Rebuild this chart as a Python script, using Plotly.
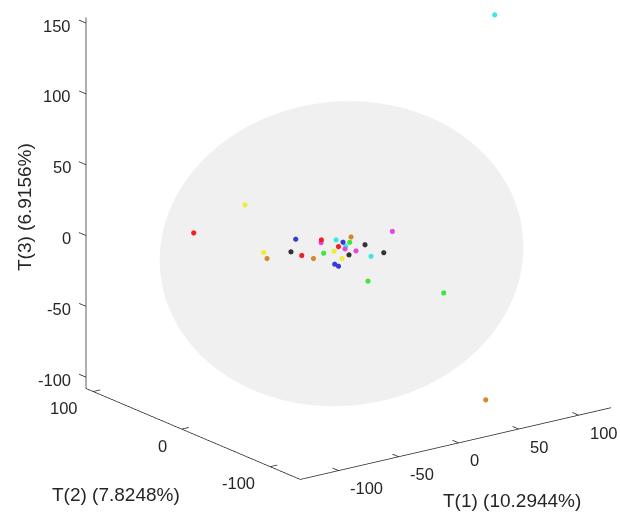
import numpy as np
import plotly.graph_objects as go

# ---- data (PCA scores) ----
group_names = ["red", "yellow", "orange", "blue", "black", "magenta", "cyan", "green"]
group_colors = ["#ee2020", "#f0ec3c", "#d48a2c", "#3a3ad4", "#333333", "#e448e4", "#3ee6e6", "#3ee63e"]

red_T1 = [-114.6, -19.3, 2.3, -20.9]
red_T2 = [10, -5, 5, 15]
red_T3 = [24.5, 4.9, -6.7, -11.1]

yellow_T1 = [-94.0, -56.3, -5.1, -5.8]
yellow_T2 = [-20, 10, 0, -10]
yellow_T3 = [48.2, -0.7, -7.2, -9.6]

orange_T1 = [-60.9, -29.6, 16.5, 47.6]
orange_T2 = [0, -10, 10, -100]
orange_T3 = [-1.4, -4.9, -4.0, -95.9]

blue_T1 = [-33.3, 2.4, -8.2, -7.3]
blue_T2 = [5, 0, -5, -8]
blue_T3 = [5.5, -2.3, -14.4, -15.2]

black_T1 = [-26.2, 7.4, 31.8, 25.3]
black_T2 = [20, 0, 15, -15]
black_T3 = [-8.8, -12.2, -13.8, -10.2]

magenta_T1 = [-15.9, 0.4, 16.9, 28.8]
magenta_T2 = [0, -5, 5, -20]
magenta_T3 = [1.0, -5.3, -12.6, 5.5]

cyan_T1 = [4.0, 4.7, 18.4, 99.3]
cyan_T2 = [10, 0, -10, -40]
cyan_T3 = [-3.6, -5.6, -12.7, 149.9]

green_T1 = [-13.7, 4.3, 26.9, 93.7]
green_T2 = [0, -5, 5, 10]
green_T3 = [-6.9, -1.4, -35.9, -58.6]

x_ticks = [-100, -50, 0, 50, 100]
y_ticks = [-100, 0, 100]
z_ticks = [-100, -50, 0, 50, 100, 150]

x_title = "T(1) (10.2944%)"
y_title = "T(2) (7.8248%)"
z_title = "T(3) (6.9156%)"

# confidence ellipsoid parameters
ell_center = [-1.0, -3.0, -9.0]
ell_radii = [127.0, 112.0, 100.5]

# visible axis limits (MATLAB box)
x_lim = [-132, 127]
y_lim = [-134, 108]
z_lim = [-108, 154]

# padded scene ranges (so nothing gets clipped)
x_range = [-140, 135]
y_range = [-140, 120]
z_range = [-115, 160]

series = [
    (red_T1, red_T2, red_T3),
    (yellow_T1, yellow_T2, yellow_T3),
    (orange_T1, orange_T2, orange_T3),
    (blue_T1, blue_T2, blue_T3),
    (black_T1, black_T2, black_T3),
    (magenta_T1, magenta_T2, magenta_T3),
    (cyan_T1, cyan_T2, cyan_T3),
    (green_T1, green_T2, green_T3),
]

ink = "#262626"
font_fam = "Liberation Sans, Arial, sans-serif"

# ---- camera (orthographic, MATLAB-like view) ----
k_norm = 1.5 / 259.0                      # normalized scene units per data unit
view_dir = np.array([-0.5653, -0.7667, 0.314])
view_dir = view_dir / np.linalg.norm(view_dir)
look_at = np.array([-28.92, -5.24, -5.62])  # data point shown at the centre of the figure
ranges = np.array([x_range[1] - x_range[0], y_range[1] - y_range[0], z_range[1] - z_range[0]], float)
box_mid = np.array([sum(x_range) / 2, sum(y_range) / 2, sum(z_range) / 2])
cam_center = (look_at - box_mid) * k_norm
cam_dist = 1.636
cam_eye = cam_center + view_dir * cam_dist
ar = ranges * k_norm

fig = go.Figure()

# back half of the ellipsoid (as seen from the camera), flat light grey
A = np.array(ell_radii)
pole = -(view_dir / A)
pole = pole / np.linalg.norm(pole)
tmp = np.array([0.0, 0.0, 1.0])
q1 = np.cross(pole, tmp); q1 /= np.linalg.norm(q1)
q2 = np.cross(pole, q1)
th = np.linspace(0, np.pi / 2, 40)
ph = np.linspace(0, 2 * np.pi, 121)
TH, PH = np.meshgrid(th, ph)
U = (np.cos(TH)[..., None] * pole + np.sin(TH)[..., None] *
     (np.cos(PH)[..., None] * q1 + np.sin(PH)[..., None] * q2))
P = U * A + np.array(ell_center)
fig.add_trace(go.Surface(
    x=P[..., 0], y=P[..., 1], z=P[..., 2],
    surfacecolor=np.zeros(TH.shape),
    colorscale=[[0, "#f0f0f0"], [1, "#f0f0f0"]], cmin=0, cmax=1,
    showscale=False, hoverinfo="skip",
    lighting=dict(ambient=1, diffuse=0, specular=0, roughness=1, fresnel=0),
    contours=dict(x=dict(highlight=False), y=dict(highlight=False), z=dict(highlight=False)),
))

for (t1, t2, t3), name, col in zip(series, group_names, group_colors):
    fig.add_trace(go.Scatter3d(
        x=t1, y=t2, z=t3, mode="markers", name=name,
        marker=dict(size=3, color=col, line=dict(width=0), opacity=1),
        showlegend=False, hoverinfo="x+y+z",
    ))

# axis lines and tick marks (MATLAB style)
x0, x1 = x_lim
y0, y1 = y_lim
z0, z1 = z_lim
lx, ly, lz = [], [], []
lx += [x0, x1, None]; ly += [y0, y0, None]; lz += [z0, z0, None]   # T(1) axis
lx += [x0, x0, None]; ly += [y0, y1, None]; lz += [z0, z0, None]   # T(2) axis
lx += [x0, x0, None]; ly += [y1, y1, None]; lz += [z0, z1, None]   # T(3) axis
for v in x_ticks:   # x ticks along +y
    lx += [v, v, None]; ly += [y0, y0 + 7, None]; lz += [z0, z0, None]
for v in y_ticks:   # y ticks along +x
    lx += [x0, x0 + 6, None]; ly += [v, v, None]; lz += [z0, z0, None]
for v in z_ticks:   # z ticks along +y
    lx += [x0, x0, None]; ly += [y1, y1 + 8, None]; lz += [v, v, None]
fig.add_trace(go.Scatter3d(x=lx, y=ly, z=lz, mode="lines",
                           line=dict(color=ink, width=1.5), showlegend=False,
                           hoverinfo="skip"))

# tick labels placed at the tick positions on each axis
tick_font = dict(family=font_fam, size=16.5, color=ink)
scene_ann = []
for v in x_ticks:
    scene_ann.append(dict(x=v, y=y0, z=z0, text=str(v), showarrow=False,
                          xanchor="left", yanchor="middle", xshift=9, yshift=-17.5,
                          font=tick_font))
for v in y_ticks:
    scene_ann.append(dict(x=x0, y=v, z=z0, text=str(v), showarrow=False,
                          xanchor="right", yanchor="middle", xshift=-13, yshift=-16.5,
                          font=tick_font))
for v in z_ticks:
    scene_ann.append(dict(x=x0, y=y1, z=v, text=str(v), showarrow=False,
                          xanchor="right", yanchor="middle", xshift=-13, yshift=-2.5,
                          font=tick_font))

def axis(rng):
    return dict(
        range=rng, showticklabels=False, ticks="",
        showbackground=False, showgrid=False, zeroline=False,
        showline=False, title=dict(text=""), showspikes=False, autorange=False,
    )

fig.update_layout(
    width=620, height=515, margin=dict(l=0, r=0, t=0, b=0),
    paper_bgcolor="white",
    scene=dict(
        domain=dict(x=[0, 1], y=[0, 1]),
        xaxis=axis(x_range),
        yaxis=axis(y_range),
        zaxis=axis(z_range),
        aspectmode="manual",
        aspectratio=dict(x=ar[0], y=ar[1], z=ar[2]),
        camera=dict(
            eye=dict(x=cam_eye[0], y=cam_eye[1], z=cam_eye[2]),
            center=dict(x=cam_center[0], y=cam_center[1], z=cam_center[2]),
            up=dict(x=0, y=0, z=1),
            projection=dict(type="orthographic"),
        ),
        bgcolor="white",
        annotations=scene_ann,
    ),
    annotations=[
        dict(text=x_title, xref="paper", yref="paper", x=512 / 620, y=1 - 500 / 515,
             showarrow=False, font=dict(family=font_fam, size=19, color=ink),
             xanchor="center", yanchor="middle"),
        dict(text=y_title, xref="paper", yref="paper", x=116 / 620, y=1 - 494 / 515,
             showarrow=False, font=dict(family=font_fam, size=19, color=ink),
             xanchor="center", yanchor="middle"),
        dict(text=z_title, xref="paper", yref="paper", x=24 / 620, y=1 - 207 / 515,
             showarrow=False, textangle=-90, font=dict(family=font_fam, size=19, color=ink),
             xanchor="center", yanchor="middle"),
    ],
)

fig.write_html("out.html")
